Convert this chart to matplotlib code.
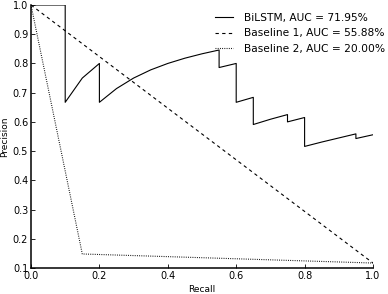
import matplotlib
matplotlib.use("Agg")
import matplotlib.pyplot as plt

bilstm_recall = [0, 0.05, 0.1, 0.1, 0.15, 0.2, 0.2, 0.25, 0.3, 0.35, 0.4, 0.45, 0.5,
                 0.55, 0.55, 0.6, 0.6, 0.65, 0.65, 0.7, 0.75, 0.75, 0.8, 0.8,
                 0.85, 0.9, 0.95, 0.95, 1.0]
bilstm_precision = [1.0, 1.0, 1.0, 0.667, 0.75, 0.8, 0.667, 0.714, 0.75, 0.778, 0.8,
                    0.818, 0.833, 0.846, 0.786, 0.8, 0.667, 0.684, 0.591, 0.609,
                    0.625, 0.6, 0.615, 0.516, 0.531, 0.545, 0.559, 0.543, 0.556]
base1_recall = [0.0, 1.0]
base1_precision = [1.0, 0.117]
base2_recall = [0.0, 0.15, 1.0]
base2_precision = [1.0, 0.148, 0.117]
labels = ["BiLSTM, AUC = 71.95%", "Baseline 1, AUC = 55.88%", "Baseline 2, AUC = 20.00%"]
xticks = [0.0, 0.2, 0.4, 0.6, 0.8, 1.0]
yticks = [0.1, 0.2, 0.3, 0.4, 0.5, 0.6, 0.7, 0.8, 0.9, 1.0]

fig = plt.figure(figsize=(3.88, 2.94), dpi=100)
ax = fig.add_axes([31/388, 1-268/294, (373-31)/388, (268-5)/294])

ax.plot(bilstm_recall, bilstm_precision, color="black", lw=0.8, label=labels[0])
ax.plot(base1_recall, base1_precision, color="black", lw=0.8, dashes=(3, 3), label=labels[1])
ax.plot(base2_recall, base2_precision, color="black", lw=0.8, dashes=(0.8, 1.2), label=labels[2])

ax.set_xlim(0, 1)
ax.set_ylim(0.1, 1.0)
ax.set_xticks(xticks)
ax.set_yticks(yticks)
ax.set_xticklabels([f"{v:.1f}" for v in xticks])
ax.set_yticklabels([f"{v:.1f}" for v in yticks])
for s in ["top", "right"]:
    ax.spines[s].set_visible(False)
for s in ["left", "bottom"]:
    ax.spines[s].set_linewidth(1.1)
ax.tick_params(direction="in", length=3, width=0.6, labelsize=7, pad=2,
               top=False, right=False)
ax.set_xlabel("Recall", fontsize=6.5, labelpad=3)
ax.set_ylabel("Precision", fontsize=6.5, labelpad=3)

leg = ax.legend(loc="upper right", bbox_to_anchor=(385/388, 1-13/294),
                bbox_transform=fig.transFigure, frameon=False, fontsize=7.7,
                handlelength=1.7, handletextpad=1.0, labelspacing=0.5,
                borderaxespad=0.0, borderpad=0.0)
fig.savefig("out.png", dpi=100)
